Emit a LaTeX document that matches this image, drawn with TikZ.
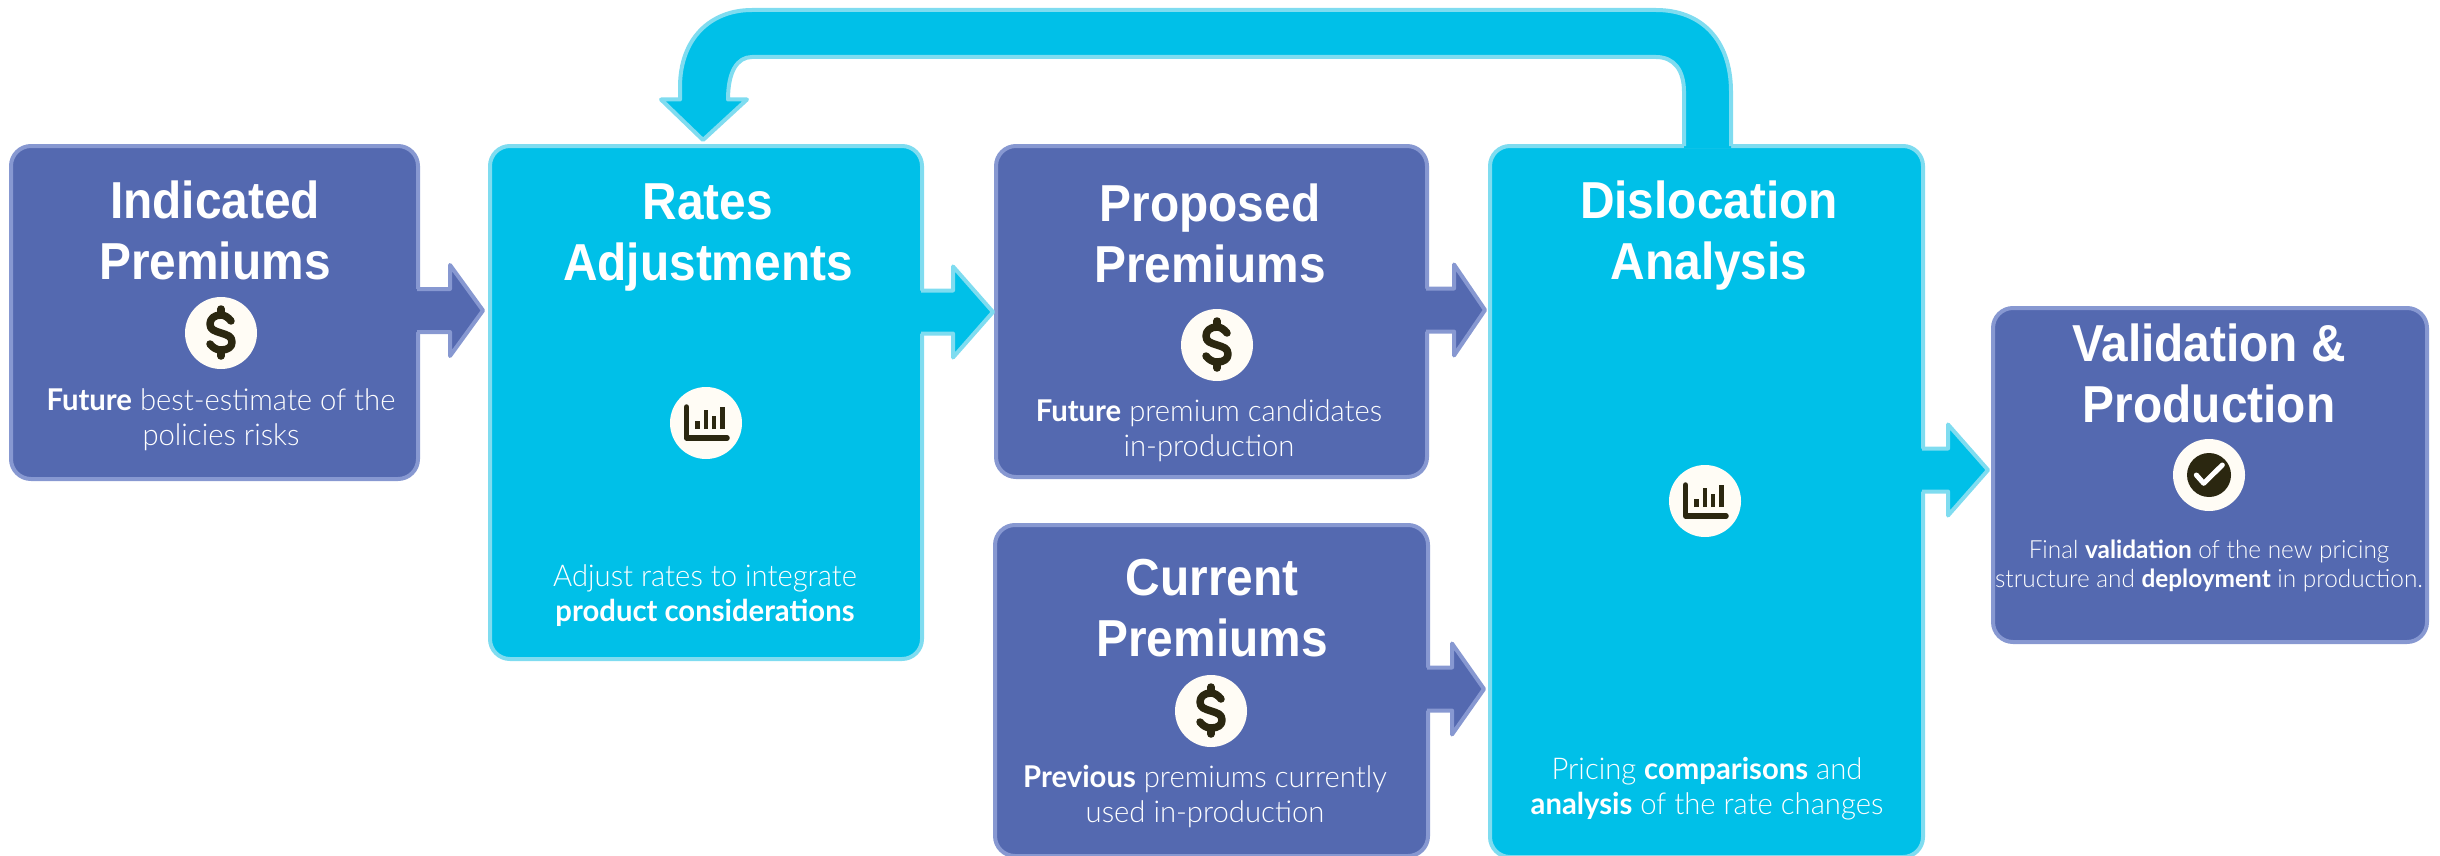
\documentclass[tikz,border=0pt]{standalone}
\usepackage{fontspec}
\usetikzlibrary{calc}
\setmainfont{Liberation Sans}
\newfontfamily\headf[FakeStretch=0.92]{Liberation Sans Bold}
\newfontfamily\bodyf[BoldFont={Lato Bold},FakeStretch=0.975]{Lato Light}
\definecolor{pfill}{HTML}{5469B0}
\definecolor{pline}{HTML}{8798D1}
\definecolor{cfill}{HTML}{00C0E8}
\definecolor{cline}{HTML}{7FDCF0}
\definecolor{cream}{HTML}{FFFCF5}
\definecolor{ink}{HTML}{2B2710}
\tikzset{
  x=1pt,y=-1pt,
  basebox/.style={rectangle,rounded corners=20pt,line width=4pt,inner sep=0pt,outer sep=0pt},
  pbox/.style={basebox,draw=pline,fill=pfill},
  cbox/.style={basebox,draw=cline,fill=cfill},
  titletext/.style={anchor=south,inner sep=0pt,outer sep=0pt,text depth=0pt,align=center,text=white,font=\headf\fontsize{52}{61}\selectfont},
  desctext/.style={anchor=south,inner sep=0pt,outer sep=0pt,text depth=0pt,align=center,text=white,font=\bodyf\fontsize{30}{35}\selectfont},
  smalltext/.style={anchor=south,inner sep=0pt,outer sep=0pt,text depth=0pt,align=center,text=white,font=\bodyf\fontsize{25}{29}\selectfont},
  disc/.style={circle,fill=cream,minimum size=72pt,inner sep=0pt,outer sep=0pt},
  glyph/.style={draw=ink,line width=7.5pt,line cap=round,line join=round},
}
% from, to, y, gap at tip, head length, fill, line
\newcommand{\blockarrow}[7]{%
  \coordinate (s) at (#1.east |- 0,#3);
  \coordinate (t) at ($(#2.west |- 0,#3)+(#4,0)$);
  \fill[#6] ($(s)+(-2,-21.5)$) -- ($(t)+(-#5,-21.5)$) -- ($(t)+(-#5,-45.5)$) -- (t)
     -- ($(t)+(-#5,45.5)$) -- ($(t)+(-#5,21.5)$) -- ($(s)+(-2,21.5)$) -- cycle;
  \draw[#7,line width=4pt,line join=round] ($(s)+(-1,-21.5)$) -- ($(t)+(-#5,-21.5)$) -- ($(t)+(-#5,-45.5)$) -- (t)
     -- ($(t)+(-#5,45.5)$) -- ($(t)+(-#5,21.5)$) -- ($(s)+(-1,21.5)$);
}
\newcommand{\dollaricon}[1]{%
  \begin{scope}[shift={(#1)}]
    \draw[glyph] (10,-12) .. controls (7,-16) and (3,-18) .. (0,-18)
      .. controls (-7,-18) and (-11,-14) .. (-11,-9)
      .. controls (-11,-3) and (-6,-2) .. (0,0)
      .. controls (6,2) and (11,3) .. (11,9)
      .. controls (11,14) and (7,17) .. (0,17)
      .. controls (-4,17) and (-8,15) .. (-11,11);
    \draw[glyph] (0,-24) -- (0,-18);
    \draw[glyph] (0,18) -- (0,23);
  \end{scope}
}
\newcommand{\charticon}[1]{%
  \begin{scope}[shift={(#1)}]
    \draw[glyph,line width=5.5pt] (-19.5,-16) -- (-19.5,15) -- (21,15);
    \foreach \bx/\by in {-8.3/-1.7,0/-12.7,8/-7.3,16.3/-15.7}
      \draw[glyph,line width=4.6pt,line cap=butt] (\bx,6) -- (\bx,\by);
  \end{scope}
}
\newcommand{\fbpath}{%
  ($(fbs)+(-22.5,-54)$)
   .. controls ($(fbs)+(-22.5,-76)$) and ($(fbs)+(-32.5,-89)$) .. ($(fbs)+(-50.5,-89)$)
   -- ($(rates.north)+(46,-89)$) .. controls ($(rates.north)+(31,-89)$) and ($(rates.north)+(22,-74)$) .. ($(rates.north)+(22,-46.5)$)
   -- ($(fbt)+(44,-40.5)$) -- (fbt) -- ($(fbt)+(-42,-40.5)$) -- ($(rates.north)+(-26,-46.5)$)
   -- ($(rates.north)+(-26,-59)$) .. controls ($(rates.north)+(-26,-107)$) and ($(rates.north)+(4,-136)$) .. ($(rates.north)+(46,-136)$)
   -- ($(fbs)+(-50.5,-136)$) .. controls ($(fbs)+(-6,-136)$) and ($(fbs)+(24.5,-107)$) .. ($(fbs)+(24.5,-54)$)
}
\begin{document}
\begin{tikzpicture}
\useasboundingbox (0,0) rectangle (2440,856);
\clip (0,0) rectangle (2440,856);
% boxes
\node[pbox,minimum width=407pt,minimum height=333pt] (ind) at (214.5,312.5) {};
\node[cbox,minimum width=432pt,minimum height=513pt] (rates) at (706,402.5) {};
\node[pbox,minimum width=431pt,minimum height=331pt] (prop) at (1211.5,311.5) {};
\node[pbox,minimum width=433pt,minimum height=331pt] (cur) at (1211.5,690.5) {};
\node[cbox,minimum width=433pt,minimum height=711pt] (disl) at (1706.5,501.5) {};
\node[pbox,minimum width=434pt,minimum height=334pt] (val) at (2210,475) {};
% feedback arrow
\coordinate (fbs) at (disl.north);
\coordinate (fbt) at ($(rates.north)+(-3,-6)$);
\fill[cfill] ($(fbs)+(-22.5,2)$) -- \fbpath -- ($(fbs)+(24.5,2)$) -- cycle;
\draw[cline,line width=4pt,line join=round] ($(fbs)+(-22.5,0)$) -- \fbpath -- ($(fbs)+(24.5,0)$);
% block arrows
\blockarrow{ind}{rates}{310.5}{-7}{33}{pfill}{pline}
\blockarrow{rates}{prop}{312}{-3}{40}{cfill}{cline}
\blockarrow{prop}{disl}{310}{-5}{31}{pfill}{pline}
\blockarrow{cur}{disl}{689}{-6}{32}{pfill}{pline}
\blockarrow{disl}{val}{470}{-5}{40}{cfill}{cline}
% titles
\node[titletext] (t1) at (215,279) {Indicated\\Premiums};
\node[titletext] (t2) at (708,280) {Rates\\Adjustments};
\node[titletext] (t3) at (1210,282) {Proposed\\Premiums};
\node[titletext] (t4) at (1212,656) {Current\\Premiums};
\node[titletext] (t5) at (1709,279) {Dislocation\\Analysis};
\node[titletext] (t6) at (2209,422) {Validation \&\\Production};
% descriptions
\node[desctext] (d1) at (221,445) {\textbf{Future} best-estimate of the\\policies risks};
\node[desctext] (d2) at (705,621) {Adjust rates to integrate\\\textbf{product considerations}};
\node[desctext] (d3) at (1209,456) {\textbf{Future} premium candidates\\in-production};
\node[desctext] (d4) at (1205,822) {\textbf{Previous} premiums currently\\used in-production};
\node[desctext] (d5) at (1707,814) {Pricing \textbf{comparisons} and\\\textbf{analysis} of the rate changes};
\node[smalltext] (d6) at (2209,587) {Final \textbf{validation} of the new pricing\\structure and \textbf{deployment} in production.};
% icons
\node[disc] (i1) at (221,333) {};
\dollaricon{i1}
\node[disc] (i2) at (706,423) {};
\charticon{i2}
\node[disc] (i3) at (1217,345) {};
\dollaricon{i3}
\node[disc] (i4) at (1211,711) {};
\dollaricon{i4}
\node[disc] (i5) at (1705,501) {};
\charticon{i5}
\node[disc] (i6) at (2209,475) {};
\fill[ink] (i6) circle (22);
\draw[white,line width=5pt,line cap=round,line join=round] ($(i6)+(-12.7,0)$) -- ($(i6)+(-5.3,8.3)$) -- ($(i6)+(13.3,-10)$);
\end{tikzpicture}
\end{document}
